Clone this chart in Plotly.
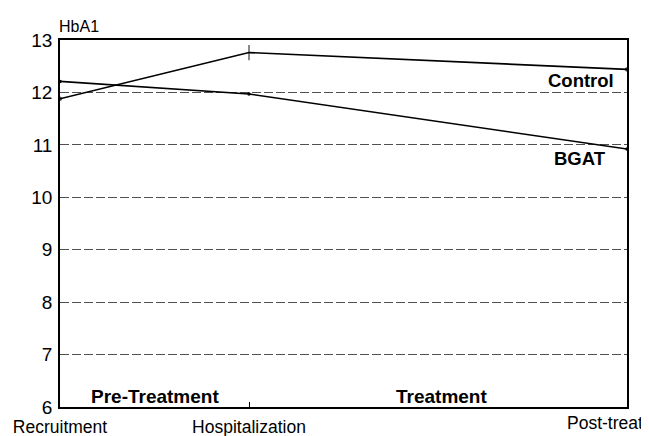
import plotly.graph_objects as go

# Data
stage_labels = ["Recruitment", "Hospitalization", "Post-treat"]
stage_x = [0, 1, 3]
control_hba1c = [11.88, 12.76, 12.44]
bgat_hba1c = [12.21, 11.97, 10.92]
y_ticks = [6, 7, 8, 9, 10, 11, 12, 13]

FONT = "Liberation Sans"
fig = go.Figure()

fig.add_trace(go.Scatter(
    x=stage_x, y=control_hba1c, mode="lines+markers", name="Control",
    line=dict(color="black", width=1.6),
    marker=dict(symbol=["circle", "line-ns", "circle"], size=[3, 11, 3],
                color="black", line=dict(color="black", width=1.3)),
    cliponaxis=False,
))
fig.add_trace(go.Scatter(
    x=stage_x, y=bgat_hba1c, mode="lines+markers", name="BGAT",
    line=dict(color="black", width=1.6),
    marker=dict(symbol="circle", size=3.5, color="black"),
    cliponaxis=False,
))

# page body has an 8px margin, so the figure is sized to fit inside the window
fig.update_layout(
    width=641, height=428,
    margin=dict(l=52, r=22, t=32, b=29, autoexpand=False),
    paper_bgcolor="white", plot_bgcolor="white",
    showlegend=False,
    font=dict(family=FONT, size=17, color="black"),
    xaxis=dict(
        range=[0, 3], tickmode="array", tickvals=stage_x[:2], ticktext=stage_labels[:2],
        showgrid=False, zeroline=False, showline=True, linecolor="black", linewidth=1.5,
        mirror=True, ticks="inside", ticklen=5, tickcolor="black", automargin=False,
        tickfont=dict(family=FONT, size=17.5), ticklabelstandoff=3,
    ),
    yaxis=dict(
        range=[6, 13], tickmode="array", tickvals=y_ticks, automargin=False,
        showgrid=True, gridcolor="#505050", griddash="9px,3px", gridwidth=1,
        zeroline=False, showline=True, linecolor="black", linewidth=1.5,
        mirror=True, ticks="", tickfont=dict(family=FONT, size=19),
        ticklabelstandoff=2,
    ),
)

fig.add_annotation(x=3, y=6, xref="x", yref="y", text="Post-treat", showarrow=False,
                   xanchor="right", yanchor="top", xshift=18, yshift=-4,
                   font=dict(family=FONT, size=17.5))
fig.add_annotation(x=0, y=13, xref="x", yref="y", text="HbA1", showarrow=False,
                   xanchor="left", yanchor="bottom", xshift=-3, yshift=3,
                   font=dict(family=FONT, size=16))
fig.add_annotation(x=2.757, y=12.23, xref="x", yref="y", text="<b>Control</b>", showarrow=False,
                   font=dict(family=FONT, size=18.5))
fig.add_annotation(x=2.75, y=10.74, xref="x", yref="y", text="<b>BGAT</b>", showarrow=False,
                   font=dict(family=FONT, size=18.5))
fig.add_annotation(x=0.5, y=6, xref="x", yref="y", text="<b>Pre-Treatment</b>", showarrow=False,
                   yanchor="bottom", yshift=-2, font=dict(family=FONT, size=19))
fig.add_annotation(x=2.02, y=6, xref="x", yref="y", text="<b>Treatment</b>", showarrow=False,
                   yanchor="bottom", yshift=-2, font=dict(family=FONT, size=19))

fig.write_html("out.html")
